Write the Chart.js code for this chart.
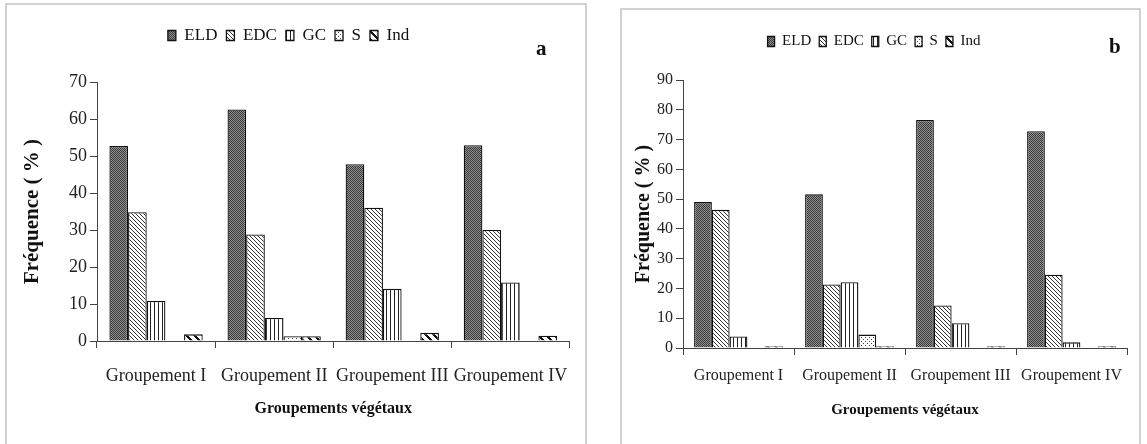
<!DOCTYPE html>
<html>
<head>
<meta charset="utf-8">
<script src="https://cdn.jsdelivr.net/npm/chart.js@4.4.0/dist/chart.umd.min.js"></script>
<style>
    html, body { margin: 0; padding: 0; background: #fff; width: 1147px; height: 444px; overflow: hidden; }
    .panel { position: absolute; border: 2px solid #d2d2d2; box-sizing: border-box; }
    #panelA { left: 5px; top: 3px; width: 582px; height: 470px; }
    #panelB { left: 620px; top: 8px; width: 521px; height: 470px; }
    canvas { position: absolute; }
    #chartA { left: 6px; top: 4px; }
    #chartB { left: 621px; top: 9px; }
    .tag { position: absolute; font: bold 21px 'Liberation Serif', 'Times New Roman', serif; color: #111; }
</style>
</head>
<body>
<div class="panel" id="panelA"></div>
<div class="panel" id="panelB"></div>
<canvas id="chartA" width="580" height="440" style="width:580px;height:440px"></canvas>
<canvas id="chartB" width="518" height="435" style="width:518px;height:435px"></canvas>
<div class="tag" style="left:536px; top:36px;">a</div>
<div class="tag" style="left:1109px; top:34px;">b</div>

<script>
const groupes = ['Groupement I', 'Groupement II', 'Groupement III', 'Groupement IV'];
const seriesNames = ['ELD', 'EDC', 'GC', 'S', 'Ind'];

// Figure a
const eldA = [52.7, 62.6, 47.8, 52.9];
const edcA = [34.8, 28.8, 36.0, 30.0];
const gcA = [10.8, 6.2, 14.1, 15.8];
const sA = [0, 1.3, 0, 0];
const indA = [1.8, 1.3, 2.2, 1.4];
const yMaxA = 70;

// Figure b
const eldB = [49.0, 51.6, 76.6, 72.8];
const edcB = [46.4, 21.3, 14.3, 24.6];
const gcB = [3.9, 22.1, 8.3, 1.9];
const sB = [0, 4.5, 0, 0];
const indB = [0.6, 0.6, 0.6, 0.6];
const yMaxB = 90;

const serif = "'Liberation Serif', 'Times New Roman', serif";
Chart.defaults.font.family = serif;
Chart.defaults.color = '#222';

function makePattern(size, draw) {
    const c = document.createElement('canvas');
    c.width = size;
    c.height = size;
    const g = c.getContext('2d');
    g.fillStyle = '#fff';
    g.fillRect(0, 0, size, size);
    draw(g, size);
    return g.createPattern(c, 'repeat');
}

// hatch fills, roughly like the old Excel patterns
const fills = [
    makePattern(4, (g) => {
        g.fillStyle = '#8e8e8e';
        g.fillRect(0, 0, 4, 4);
        g.fillStyle = '#3c3c3c';
        [[0, 0], [2, 0], [1, 1], [3, 1], [0, 2], [2, 2], [1, 3], [3, 3]].forEach(p => g.fillRect(p[0], p[1], 1, 1));
    }),
    makePattern(4, (g, s) => {
        g.fillStyle = '#333';
        for (let i = 0; i < s; i++) g.fillRect(i, i, 1, 1);
    }),
    makePattern(4, (g, s) => {
        g.fillStyle = '#222';
        g.fillRect(0, 0, 1, s);
    }),
    makePattern(4, (g) => {
        g.fillStyle = '#444';
        g.fillRect(0, 0, 1, 1);
        g.fillRect(2, 2, 1, 1);
    }),
    makePattern(8, (g, s) => {
        g.fillStyle = '#111';
        for (let i = 0; i < s; i++) {
            for (let k = 0; k < 3; k++) g.fillRect((i + k) % s, i, 1, 1);
        }
    })
];

function legendSpacer(height) {
    return {
        id: 'legendSpacer',
        beforeInit(chart) {
            const originalFit = chart.legend.fit;
            chart.legend.fit = function () {
                originalFit.bind(chart.legend)();
                this.height = height;
            };
        }
    };
}

function createChart(id, values, s) {
    const ctx = document.getElementById(id).getContext('2d');

    return new Chart(ctx, {
        type: 'bar',
        data: {
            labels: groupes,
            datasets: values.map((data, i) => ({
                label: seriesNames[i],
                data: data,
                backgroundColor: fills[i],
                borderColor: '#111',
                borderWidth: 1.3,
                categoryPercentage: s.catPct,
                barPercentage: 1.0
            }))
        },
        options: {
            responsive: false,
            animation: false,
            layout: {
                padding: { top: s.padTop, right: s.padRight, left: 0, bottom: 0 }
            },
            plugins: {
                tooltip: { enabled: false },
                legend: {
                    position: 'top',
                    labels: {
                        color: '#111',
                        boxWidth: s.box,
                        boxHeight: 10,
                        padding: s.legendPad,
                        font: { size: s.legendFont }
                    }
                }
            },
            scales: {
                x: {
                    afterFit: (scale) => { scale.height = s.xHeight; },
                    grid: { offset: true, drawOnChartArea: false, tickLength: 7, color: '#444' },
                    border: { color: '#444' },
                    ticks: {
                        color: '#222',
                        autoSkip: false,
                        maxRotation: 0,
                        padding: s.xTickPad,
                        font: { size: s.tickFont }
                    },
                    title: {
                        display: true,
                        text: 'Groupements végétaux',
                        color: '#111',
                        font: { size: s.xTitleFont, weight: 'bold' },
                        padding: { top: 0, bottom: s.xTitlePad }
                    }
                },
                y: {
                    min: 0,
                    max: s.yMax,
                    afterFit: (scale) => { scale.width = s.yWidth; },
                    grid: { drawOnChartArea: false, tickLength: 7, color: '#444' },
                    border: { color: '#444' },
                    ticks: {
                        stepSize: 10,
                        color: '#222',
                        padding: 3,
                        font: { size: s.tickFont }
                    },
                    title: {
                        display: true,
                        text: 'Fréquence ( % )',
                        color: '#111',
                        font: { size: s.yTitleFont, weight: 'bold' },
                        padding: { top: s.yTitlePad, bottom: 0 }
                    }
                }
            }
        },
        plugins: [legendSpacer(s.legendHeight)]
    });
}

createChart('chartA', [eldA, edcA, gcA, sA, indA], {
    yMax: yMaxA, catPct: 0.79, padTop: 14, padRight: 15, legendHeight: 64,
    box: 8, legendPad: 9, legendFont: 17, xHeight: 103, xTickPad: 17,
    tickFont: 18, xTitleFont: 16, xTitlePad: 26, yWidth: 91, yTitleFont: 21, yTitlePad: 14
});

createChart('chartB', [eldB, edcB, gcB, sB, indB], {
    yMax: yMaxB, catPct: 0.8, padTop: 17, padRight: 12, legendHeight: 54,
    box: 7, legendPad: 8, legendFont: 15, xHeight: 96, xTickPad: 11,
    tickFont: 16, xTitleFont: 15, xTitlePad: 25, yWidth: 62, yTitleFont: 20, yTitlePad: 11
});
</script>
</body>
</html>
